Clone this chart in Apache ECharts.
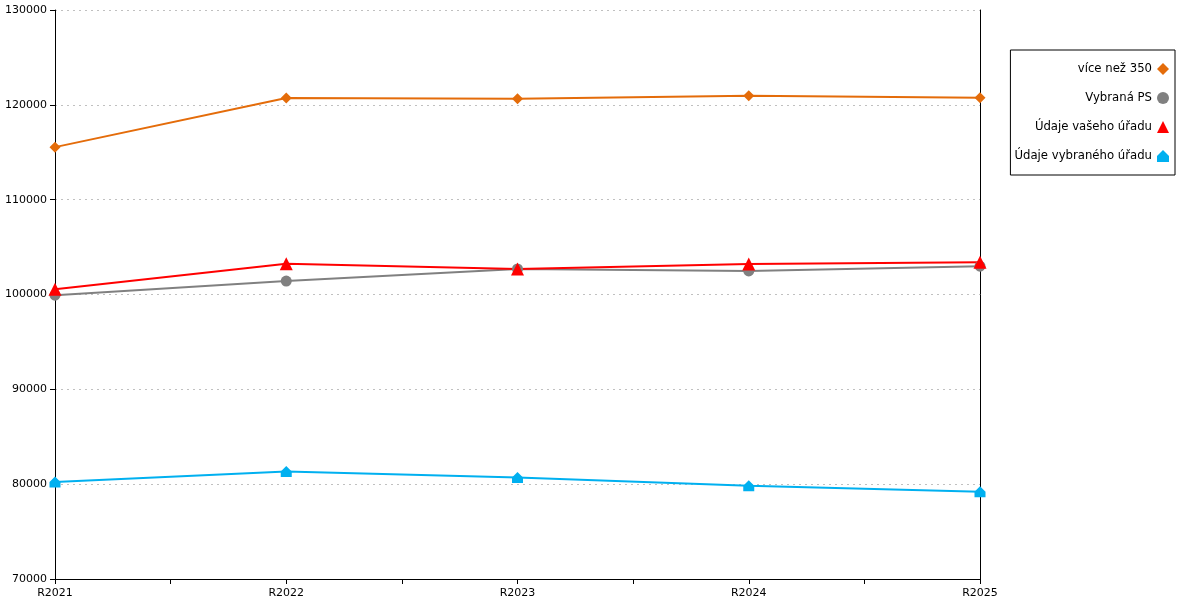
<!DOCTYPE html>
<html>
<head>
<meta charset="utf-8">
<script src="https://cdn.jsdelivr.net/npm/echarts@6/dist/echarts.min.js"></script>
<style>
  html, body { margin: 0; padding: 0; background: #fff; }
  #chart { width: 1200px; height: 600px; }
</style>
</head>
<body>
<div id="chart"></div>
<script>
// kategorie na ose X
const years = ['R2021', 'R2022', 'R2023', 'R2024', 'R2025'];

// hodnoty řad
const viceNez350 = [115540, 120710, 120640, 120950, 120740];
const vybranaPS = [99930, 101420, 102690, 102480, 102990];
const vasUrad = [100550, 103240, 102690, 103220, 103400];
const vybranyUrad = [80240, 81340, 80710, 79820, 79190];

// popisky osy Y
const yTicks = [70000, 80000, 90000, 100000, 110000, 120000, 130000];

const houseIcon = 'path://M0,5 L5,0 L10,5 L10,10 L0,10 Z';

const seriesDefs = [
    { name: 'více než 350', data: viceNez350, color: '#e46c0a', symbol: 'diamond', size: 11 },
    { name: 'Vybraná PS', data: vybranaPS, color: '#808080', symbol: 'circle', size: 11 },
    { name: 'Údaje vašeho úřadu', data: vasUrad, color: '#ff0000', symbol: 'triangle', size: 13 },
    { name: 'Údaje vybraného úřadu', data: vybranyUrad, color: '#00b0f0', symbol: houseIcon, size: 11 }
];

const chart = echarts.init(document.getElementById('chart'));

const option = {
    backgroundColor: '#fff',
    animation: false,
    textStyle: { fontFamily: 'DejaVu Sans' },
    grid: { left: 55, right: 220, top: 10, bottom: 21, containLabel: false },
    legend: {
        orient: 'vertical',
        right: 25,
        top: 50,
        padding: [13, 6, 13, 4],
        itemGap: 17,
        itemWidth: 12,
        itemHeight: 12,
        align: 'right',
        borderColor: '#000',
        borderWidth: 1,
        textStyle: { fontSize: 11.7, color: '#000', width: 135, align: 'right' },
        data: seriesDefs.map(s => ({ name: s.name, icon: s.symbol }))
    },
    xAxis: {
        type: 'value',
        min: 0,
        max: years.length - 1,
        interval: 0.5,
        axisLine: { lineStyle: { color: '#000', width: 1 } },
        axisTick: { show: true, length: 5, lineStyle: { color: '#000' } },
        axisLabel: {
            color: '#000',
            fontSize: 11,
            margin: 9,
            formatter: v => (Number.isInteger(v) ? years[v] : '')
        },
        splitLine: { show: false }
    },
    yAxis: [
        {
            type: 'value',
            min: yTicks[0],
            max: yTicks[yTicks.length - 1],
            interval: yTicks[1] - yTicks[0],
            axisLine: { show: true, lineStyle: { color: '#000', width: 1 } },
            axisTick: { show: true, length: 5, lineStyle: { color: '#000' } },
            axisLabel: { color: '#000', fontSize: 11, margin: 8, formatter: v => String(v) },
            splitLine: { show: true, lineStyle: { color: '#c0c0c0', type: [2, 4] } }
        },
        {
            type: 'value',
            position: 'right',
            min: yTicks[0],
            max: yTicks[yTicks.length - 1],
            interval: yTicks[1] - yTicks[0],
            axisLine: { show: true, lineStyle: { color: '#000', width: 1 } },
            axisTick: { show: false },
            axisLabel: { show: false },
            splitLine: { show: false }
        }
    ],
    series: seriesDefs.map(s => ({
        name: s.name,
        type: 'line',
        data: s.data.map((v, i) => [i, v]),
        symbol: s.symbol,
        symbolSize: s.size,
        showAllSymbol: true,
        clip: false,
        itemStyle: { color: s.color },
        lineStyle: { color: s.color, width: 2 }
    }))
};

chart.setOption(option);
</script>
</body>
</html>
